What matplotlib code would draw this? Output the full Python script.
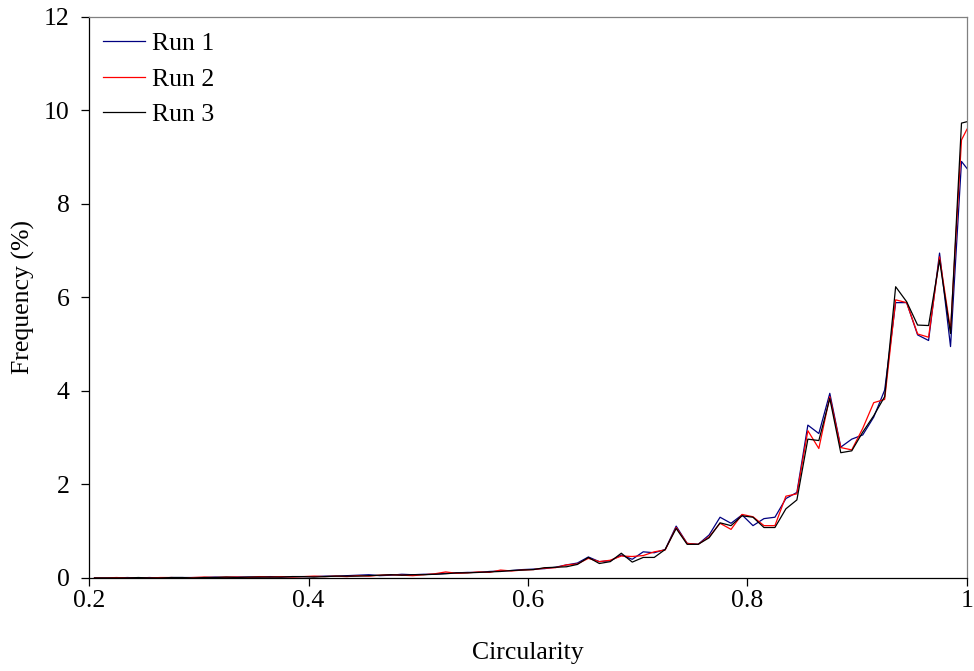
import numpy as np
import matplotlib
matplotlib.use("Agg")
import matplotlib.pyplot as plt
from matplotlib.ticker import FixedLocator, FixedFormatter

# Bin centres of the circularity histogram (0.205 ... 0.995) plus the right edge
circularity = np.round(np.arange(0.205, 1.0, 0.01), 3).tolist() + [1.0]

run1 = [0.00, 0.00, 0.00, 0.01, 0.00, 0.01, 0.00, 0.01, 0.01, 0.01,
        0.01, 0.02, 0.01, 0.02, 0.02, 0.02, 0.03, 0.02, 0.03, 0.03,
        0.03, 0.04, 0.04, 0.05, 0.06, 0.07, 0.05, 0.06, 0.08, 0.07,
        0.08, 0.08, 0.10, 0.11, 0.12, 0.12, 0.14, 0.15, 0.16, 0.18,
        0.19, 0.20, 0.23, 0.28, 0.32, 0.45, 0.35, 0.37, 0.49, 0.40,
        0.56, 0.54, 0.61, 1.11, 0.74, 0.72, 0.92, 1.30, 1.17, 1.35,
        1.12, 1.27, 1.30, 1.70, 1.83, 3.27, 3.09, 3.95, 2.80, 2.97,
        3.06, 3.44, 4.02, 5.89, 5.89, 5.20, 5.08, 6.95, 4.95, 8.91,
        8.76]

run2 = [0.00, 0.00, 0.01, 0.00, 0.00, 0.00, 0.01, 0.01, 0.00, 0.01,
        0.02, 0.01, 0.02, 0.02, 0.01, 0.03, 0.02, 0.03, 0.02, 0.03,
        0.04, 0.03, 0.04, 0.03, 0.05, 0.04, 0.06, 0.07, 0.06, 0.05,
        0.07, 0.09, 0.13, 0.10, 0.11, 0.13, 0.12, 0.17, 0.15, 0.17,
        0.18, 0.21, 0.22, 0.28, 0.30, 0.42, 0.35, 0.38, 0.47, 0.46,
        0.48, 0.56, 0.60, 1.08, 0.74, 0.72, 0.88, 1.17, 1.04, 1.36,
        1.31, 1.12, 1.12, 1.75, 1.80, 3.15, 2.77, 3.88, 2.79, 2.74,
        3.20, 3.75, 3.82, 5.95, 5.89, 5.22, 5.15, 6.87, 5.30, 9.37,
        9.60]

run3 = [0.00, 0.00, 0.00, 0.00, 0.01, 0.00, 0.00, 0.01, 0.01, 0.00,
        0.01, 0.01, 0.02, 0.01, 0.02, 0.02, 0.02, 0.02, 0.03, 0.03,
        0.02, 0.03, 0.04, 0.04, 0.04, 0.05, 0.06, 0.07, 0.06, 0.07,
        0.07, 0.08, 0.09, 0.11, 0.11, 0.12, 0.13, 0.14, 0.16, 0.17,
        0.18, 0.22, 0.23, 0.24, 0.29, 0.44, 0.31, 0.35, 0.53, 0.34,
        0.44, 0.44, 0.61, 1.06, 0.72, 0.72, 0.86, 1.18, 1.12, 1.33,
        1.30, 1.08, 1.08, 1.48, 1.67, 2.97, 2.94, 3.84, 2.68, 2.72,
        3.12, 3.47, 3.88, 6.23, 5.91, 5.41, 5.40, 6.80, 5.23, 9.73,
        9.76]

series_labels = ["Run 1", "Run 2", "Run 3"]
series_colors = ["#000080", "#ff0000", "#000000"]

x_ticks = [0.2, 0.4, 0.6, 0.8, 1.0]
x_tick_labels = ["0.2", "0.4", "0.6", "0.8", "1"]
y_ticks = [0, 2, 4, 6, 8, 10, 12]
y_tick_labels = ["0", "2", "4", "6", "8", "10", "12"]

FS = 18.5

plt.rcParams["font.family"] = ["Liberation Serif", "DejaVu Serif"]

fig = plt.figure(figsize=(9.74, 6.71), dpi=100)
ax = fig.add_axes([0.0914, 0.1386, 0.9014, 0.8361])

for vals, lab, col in zip([run1, run2, run3], series_labels, series_colors):
    ax.plot(circularity, vals, color=col, lw=0.9, label=lab)

ax.set_xlim(0.2, 1.0)
ax.set_ylim(0, 12)
ax.xaxis.set_major_locator(FixedLocator(x_ticks))
ax.xaxis.set_major_formatter(FixedFormatter(x_tick_labels))
ax.yaxis.set_major_locator(FixedLocator(y_ticks))
ax.yaxis.set_major_formatter(FixedFormatter(y_tick_labels))

ax.tick_params(axis="both", direction="out", length=6, width=0.9,
               labelsize=FS, colors="black")
ax.tick_params(axis="y", pad=8)
ax.tick_params(axis="x", pad=2.5)
ax.tick_params(top=False, right=False)

for side in ("left", "bottom"):
    ax.spines[side].set_color("black")
    ax.spines[side].set_linewidth(0.9)
for side in ("top", "right"):
    ax.spines[side].set_color("#808080")
    ax.spines[side].set_linewidth(0.9)

ax.set_xlabel("Circularity", fontsize=FS, labelpad=22)
ax.set_ylabel("Frequency (%)", fontsize=FS, labelpad=6)

leg = ax.legend(loc="upper left", frameon=False, fontsize=FS,
                handlelength=1.65, handletextpad=0.25, labelspacing=0.48,
                borderpad=0.2, borderaxespad=0.4,
                bbox_to_anchor=(-0.002, 1.0))

fig.savefig("out.png", dpi=100)
